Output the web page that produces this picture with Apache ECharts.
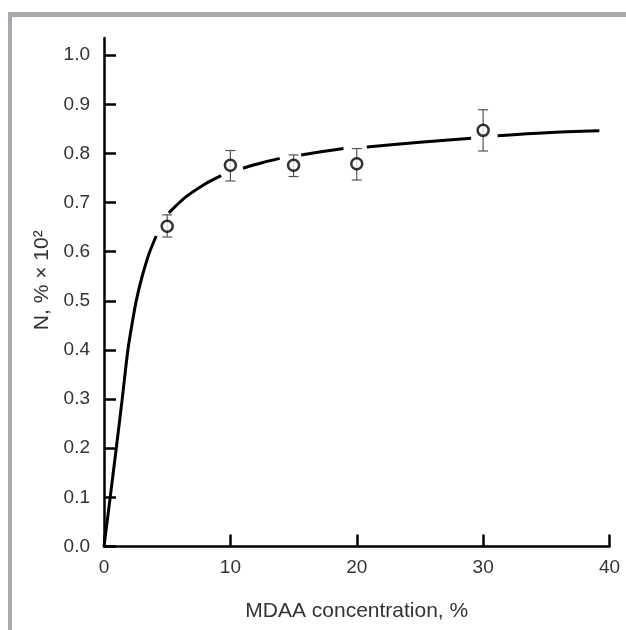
<!DOCTYPE html>
<html>
<head>
<meta charset="utf-8">
<script src="https://cdn.jsdelivr.net/npm/echarts@6/dist/echarts.min.js"></script>
<style>
  html, body { margin: 0; padding: 0; background: #fff; }
  .frame { position: absolute; left: 8px; top: 12px; right: 0; bottom: 0; border-top: 5px solid #a8a9ad; border-left: 4px solid #a8a9ad; }
  #chart { position: absolute; left: 0; top: 0; width: 626px; height: 630px; }
</style>
</head>
<body>
<div class="frame"></div>
<div id="chart"></div>
<script>
// measured points with error bars
const pointX = [5, 10, 15, 20, 30]
const pointY = [0.652, 0.776, 0.776, 0.779, 0.847]
const errLow = [0.630, 0.744, 0.753, 0.746, 0.805]
const errHigh = [0.675, 0.806, 0.797, 0.810, 0.889]

// fitted curve; null = break where it passes a marker
const curveX = [0, 0.49, 0.97, 1.44, 1.89, 2.2, 2.55, 3.0, 3.55, 4.13, 4.6, 5.13, 6.5, 8, 9.27, 10.1, 11.0, 12.5, 13.9, 14.8, 15.6, 17.3, 18.95, 19.9, 20.8, 25, 29.05, 30.1, 31.15, 35, 39.2]
const curveY = [0, 0.1, 0.2, 0.3, 0.4, 0.45, 0.5, 0.548, 0.595, 0.632, null, 0.679, 0.712, 0.738, 0.755, null, 0.770, 0.781, 0.790, null, 0.797, 0.804, 0.810, null, 0.813, 0.823, 0.831, null, 0.836, 0.842, 0.846]

const xTicks = [0, 10, 20, 30, 40]
const yTicks = [0, 0.1, 0.2, 0.3, 0.4, 0.5, 0.6, 0.7, 0.8, 0.9, 1.0]

const font = '"Liberation Sans", Arial, sans-serif'
const chart = echarts.init(document.getElementById('chart'))

chart.setOption({
  animation: false,
  backgroundColor: 'transparent',
  grid: { left: 104, right: 16.5, top: 38, bottom: 83.5 },
  xAxis: {
    type: 'value',
    min: 0,
    max: 40,
    interval: 10,
    name: 'MDAA concentration, %',
    nameLocation: 'middle',
    nameGap: 54,
    nameTextStyle: { fontFamily: font, fontSize: 21, color: '#333' },
    axisLine: { lineStyle: { color: '#000', width: 2.5 } },
    axisTick: { inside: true, length: 12, lineStyle: { color: '#000', width: 2.5 }, customValues: xTicks },
    axisLabel: { margin: 12, fontFamily: font, fontSize: 19, color: '#333', customValues: xTicks },
    splitLine: { show: false }
  },
  yAxis: {
    type: 'value',
    min: 0,
    max: 1.035,
    name: 'N, % × 10²',
    nameLocation: 'middle',
    nameGap: 50,
    nameRotate: 90,
    nameTextStyle: { fontFamily: font, fontSize: 21, color: '#333', padding: [0, 0, 0, 24] },
    axisLine: { show: true, lineStyle: { color: '#000', width: 2.5 } },
    axisTick: { show: true, inside: true, length: 12, lineStyle: { color: '#000', width: 2.5 }, customValues: yTicks },
    axisLabel: { margin: 14, fontFamily: font, fontSize: 19, color: '#333', customValues: yTicks, formatter: v => v.toFixed(1) },
    splitLine: { show: false }
  },
  series: [
    {
      type: 'line',
      data: curveX.map((x, i) => [x, curveY[i] === null ? '-' : curveY[i]]),
      smooth: 0.3,
      connectNulls: false,
      showSymbol: false,
      lineStyle: { color: '#000', width: 3 },
      z: 2
    },
    {
      type: 'custom',
      data: pointX.map((x, i) => [x, errLow[i], errHigh[i]]),
      renderItem: (params, api) => {
        const lo = api.coord([api.value(0), api.value(1)])
        const hi = api.coord([api.value(0), api.value(2)])
        const style = { stroke: '#555', lineWidth: 1.2 }
        return {
          type: 'group',
          children: [
            { type: 'line', shape: { x1: lo[0], y1: lo[1], x2: hi[0], y2: hi[1] }, style },
            { type: 'line', shape: { x1: lo[0] - 5, y1: lo[1], x2: lo[0] + 5, y2: lo[1] }, style },
            { type: 'line', shape: { x1: hi[0] - 5, y1: hi[1], x2: hi[0] + 5, y2: hi[1] }, style }
          ]
        }
      },
      z: 3
    },
    {
      type: 'scatter',
      data: pointX.map((x, i) => [x, pointY[i]]),
      symbol: 'circle',
      symbolSize: 11,
      itemStyle: { color: '#fff', borderColor: '#000', borderWidth: 2.5 },
      z: 4
    }
  ]
})
</script>
</body>
</html>
